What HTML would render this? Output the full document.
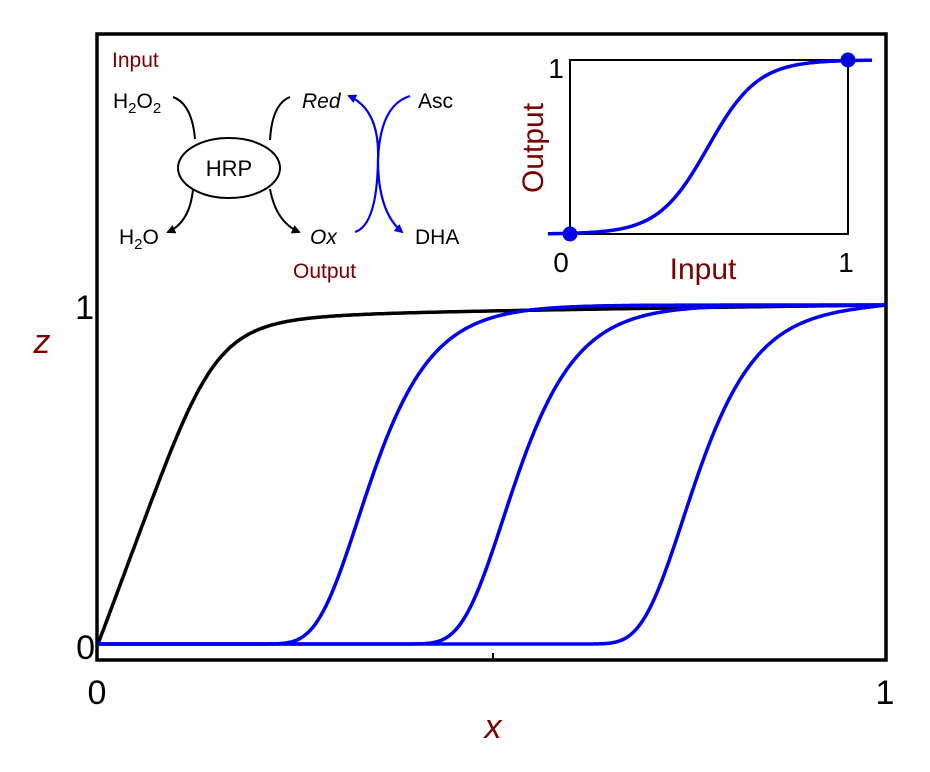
<!DOCTYPE html>
<html><head><meta charset="utf-8"><style>
body{margin:0;background:#fff;width:930px;height:772px;overflow:hidden}
svg{display:block;font-family:"Liberation Sans",sans-serif}
</style></head><body>
<svg id="s" width="930" height="772" viewBox="0 0 930 772">
<defs>
<marker id="ab" markerWidth="9" markerHeight="9" refX="7" refY="4.5" orient="auto" markerUnits="userSpaceOnUse"><path d="M0,0 L9,4.5 L0,9 z" fill="#000"/></marker>
<marker id="au" markerWidth="9" markerHeight="9" refX="7" refY="4.5" orient="auto" markerUnits="userSpaceOnUse"><path d="M0,0 L9,4.5 L0,9 z" fill="#0000ee"/></marker>
</defs>
<rect x="97" y="34" width="789" height="626" fill="none" stroke="#000" stroke-width="3.5"/>
<line x1="493" y1="653" x2="493" y2="660" stroke="#000" stroke-width="2"/>
<g id="curves"></g>
<text x="94" y="319" font-size="34" text-anchor="end">1</text>
<text x="95" y="659" font-size="34" text-anchor="end">0</text>
<text x="97" y="704" font-size="34" text-anchor="middle">0</text>
<text x="885" y="704" font-size="34" text-anchor="middle">1</text>
<text x="493" y="738" font-size="34" font-style="italic" fill="#7a0000" text-anchor="middle">x</text>
<text x="42" y="353" font-size="34" font-style="italic" fill="#7a0000" text-anchor="middle">z</text>

<text x="112" y="67" font-size="21" fill="#7a0000">Input</text>
<text x="113" y="108" font-size="21">H<tspan font-size="15" dy="5">2</tspan><tspan dy="-5">O</tspan><tspan font-size="15" dy="5">2</tspan></text>
<text x="119" y="244" font-size="21">H<tspan font-size="15" dy="5">2</tspan><tspan dy="-5">O</tspan></text>
<ellipse cx="229" cy="168" rx="51" ry="30" fill="#fff" stroke="#000" stroke-width="2"/>
<text x="229" y="176" font-size="22" text-anchor="middle">HRP</text>
<path d="M173,97 Q192,104 195,139" fill="none" stroke="#000" stroke-width="2"/>
<path d="M290,97 Q272,104 270,140" fill="none" stroke="#000" stroke-width="2"/>
<path d="M193,189 Q190,222 168,232" fill="none" stroke="#000" stroke-width="2" marker-end="url(#ab)"/>
<path d="M270,189 Q276,222 299,232" fill="none" stroke="#000" stroke-width="2" marker-end="url(#ab)"/>
<text x="302" y="108" font-size="21" font-style="italic">Red</text>
<text x="310" y="244" font-size="21" font-style="italic">Ox</text>
<text x="418" y="108" font-size="21">Asc</text>
<text x="415" y="244" font-size="21">DHA</text>
<text x="293" y="278" font-size="21" fill="#7a0000">Output</text>
<path d="M355,232 Q377,225 378,160 Q380,110 349,96" fill="none" stroke="#0000ee" stroke-width="2.2" marker-end="url(#au)"/>
<path d="M410,96 Q380,105 378,160 Q378,212 402,232" fill="none" stroke="#0000ee" stroke-width="2.2" marker-end="url(#au)"/>

<rect x="570" y="60" width="278" height="174" fill="none" stroke="#000" stroke-width="2"/>
<g id="inset"></g>
<circle cx="570" cy="234" r="7.5" fill="#0000ee"/>
<circle cx="848" cy="60" r="7.5" fill="#0000ee"/>
<text x="556" y="78" font-size="28" text-anchor="middle">1</text>
<text x="561" y="272" font-size="28" text-anchor="middle">0</text>
<text x="846" y="272" font-size="28" text-anchor="middle">1</text>
<text x="703" y="279" font-size="30" fill="#7a0000" text-anchor="middle">Input</text>
<text transform="translate(543,148) rotate(-90)" font-size="30" fill="#7a0000" text-anchor="middle">Output</text>
</svg>
<script>
function px(x){return 98+x*788} function py(z){return 644-z*339}
var g=document.getElementById('curves'),ns='http://www.w3.org/2000/svg';
function add(par,d,c,w){var p=document.createElementNS(ns,'path');p.setAttribute('d',d);p.setAttribute('fill','none');p.setAttribute('stroke',c);p.setAttribute('stroke-width',w);p.setAttribute('stroke-linejoin','round');par.appendChild(p);}
var d='';for(var i=0;i<=600;i++){var x=i/600,k=6.5*x,z=k/Math.pow(1+Math.pow(k,5),1/5);z=z*(0.95+0.05*Math.pow(x,0.6));d+=(i?'L':'M')+px(x).toFixed(1)+','+py(z).toFixed(1);}
add(g,d,'#000',3.5);
[358,503,683].forEach(function(c){var d='';for(var X=98;X<=886;X+=1){var t=X-c,z=Math.exp(-Math.exp(-t/41));z=z+(1-z)*Math.pow((X-98)/788,40);d+=(X>98?'L':'M')+X+','+py(z).toFixed(1);}add(g,d,'#0000ee',3.5);});
var gi=document.getElementById('inset');var d='';for(var X=548;X<=872;X+=1){var t=X-708,z=1/(1+Math.exp(-t/25));d+=(X>548?'L':'M')+X+','+(234-174*z).toFixed(1);}
add(gi,d,'#0000ee',3.5);
</script>
</body></html>
